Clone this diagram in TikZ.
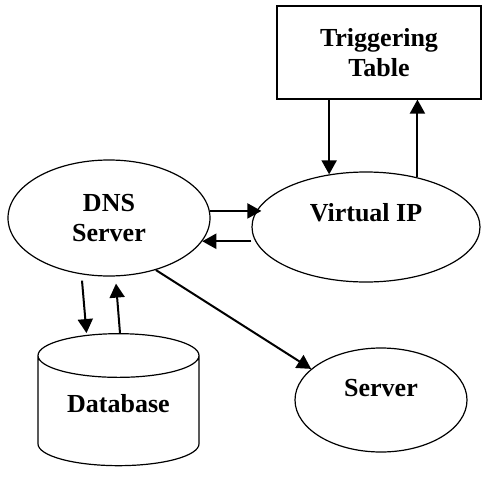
\documentclass[tikz,border=0pt]{standalone}
\usepackage{fontspec}
\setmainfont{Liberation Serif}
\usetikzlibrary{shapes.geometric,arrows.meta,calc}
\tikzset{
 lbl/.style={font=\bfseries\fontsize{26}{30}\selectfont,align=center},
 oval/.style={lbl,draw,ellipse,line width=1.2pt},
 box/.style={lbl,draw,rectangle,line width=1.2pt},
 store/.style={lbl,draw,cylinder,shape border rotate=90,aspect=0.4,line width=1.2pt},
 arr/.style={line width=2pt,-{Triangle[length=14pt,width=15pt]}}
}
\begin{document}
\begin{tikzpicture}[x=1pt,y=-1pt]
 \useasboundingbox (0,0) rectangle (482,482);
 \node[box,minimum width=204pt,minimum height=93pt] (table) at (379,52.5) {Triggering\\Table};
 \node[oval,minimum width=202pt,minimum height=116pt] (dns) at (109,218) {DNS\\Server};
 \node[oval,minimum width=228pt,minimum height=110pt,text depth=30pt] (vip) at (366,227) {Virtual IP};
 \node[oval,minimum width=172pt,minimum height=104pt,text depth=24pt] (server) at (381,400) {Server};
 \node[store,minimum width=161pt,minimum height=132pt,text depth=22pt] (db) at (118.5,414) {Database};
 % dns <-> virtual ip
 \draw[arr] (dns.4) -- ($(dns.4 -| vip.west)+(10,0)$);
 \draw[arr] (dns.-14 -| vip.west) -- (dns.-14);
 % virtual ip <-> table
 \draw[arr] (table.south -| vip.125) -- (vip.125);
 \draw[arr] (vip.44) -- (vip.44 |- table.south);
 % dns <-> database
 \draw[arr] ([xshift=-27pt,yshift=-4pt]dns.south) -- ([xshift=-32pt]db.north);
 \draw[arr] ([xshift=1.5pt]db.north) -- ([xshift=7pt,yshift=-7pt]dns.south);
 \draw[arr] (dns.-48) -- (server.156);
\end{tikzpicture}
\end{document}
